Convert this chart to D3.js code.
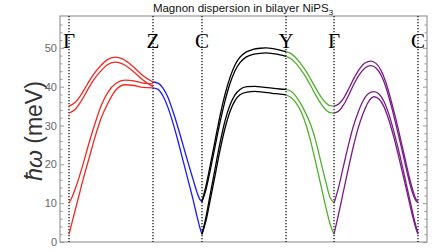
<!DOCTYPE html>
<html>
<head>
<meta charset="utf-8">
<script src="https://cdn.jsdelivr.net/npm/d3@7"></script>
<style>
  body { margin: 0; background: #fff; }
  svg { display: block; }
</style>
</head>
<body>
<div id="chart"></div>
<script>
// Magnon dispersion along the path G-Z-C-Y-G-C
// path coordinate k is in arbitrary distance units along the path

var symK = [0, 84, 133, 217, 265, 349];
var symLabels = ["Γ", "Z", "C", "Y", "Γ", "C"];

var yTicks = [0, 10, 20, 30, 40, 50];

// each segment: list of bands, each band a list of [k, energy (meV)]
var segGammaZ = [
    [[0,35.0],[6,35.9],[12,37.9],[18,40.5],[24,43.0],[31,45.2],[38,46.9],[46,47.6],[54,47.1],[64,45.2],[74,42.8],[84,41.2]],
    [[0,33.2],[6,34.1],[12,36.2],[18,38.9],[24,41.5],[31,43.8],[38,45.6],[46,46.3],[54,45.8],[64,44.0],[74,41.7],[84,40.0]],
    [[0,10],[3,11.5],[8,15],[14,20],[20,25.5],[26,30.5],[32,35],[39,38.6],[47,40.9],[56,41.7],[65,41.5],[74,40.9],[84,40.7]],
    [[0,2],[4,6],[9,11],[14,16],[20,21.5],[26,27],[32,31.8],[39,35.8],[47,39.2],[56,40.5],[65,40.3],[74,39.8],[84,39.7]]
];

var segZC = [
    [[84,41.2],[89,40.9],[94,39.6],[99,37.2],[104,33.6],[109,29.5],[114,25],[119,20.5],[124,16.2],[128,12.8],[131,10.9],[133,10.4]],
    [[84,39.7],[89,39.3],[94,37.6],[99,34.6],[104,30.6],[109,26],[114,21],[119,16],[124,11],[128,6.6],[131,3.6],[133,2]]
];

var segCY = [
    [[133,10.4],[137,14.5],[141,19.5],[146,26],[151,32.5],[156,38],[161,42.4],[166,45.6],[171,47.6],[177,48.9],[184,49.6],[191,49.9],[197,50.0],[204,49.8],[211,49.4],[217,49.0]],
    [[133,10.4],[137,13.5],[141,18.2],[146,24.5],[151,30.8],[156,36.3],[161,40.8],[166,44.1],[171,46.2],[177,47.6],[184,48.3],[191,48.6],[197,48.7],[204,48.5],[211,48.2],[217,47.8]],
    [[133,2],[137,6.5],[141,12],[146,18.8],[151,25.5],[156,31.2],[161,35.3],[166,37.9],[171,39.3],[178,40],[186,40.1],[194,39.9],[203,39.6],[211,39.4],[217,39.3]],
    [[133,2],[137,5.5],[141,10.5],[146,17],[151,23.6],[156,29.3],[161,33.6],[166,36.4],[171,37.9],[178,38.6],[186,38.8],[194,38.6],[203,38.3],[211,38.1],[217,37.9]]
];

var segYGamma = [
    [[217,49.0],[222,48.5],[227,47.4],[232,45.8],[237,44.0],[242,41.8],[247,39.5],[252,37.4],[257,35.8],[261,35.1],[265,35.0]],
    [[217,47.8],[222,47.2],[227,46.0],[232,44.3],[237,42.4],[242,40.1],[247,37.7],[252,35.6],[257,34.0],[261,33.3],[265,33.2]],
    [[217,39.3],[222,38.8],[227,37.5],[232,35.5],[237,33],[242,30],[247,25.8],[252,20.5],[257,15.3],[261,11.5],[265,10.1]],
    [[217,37.9],[222,37.2],[227,35.8],[232,33.6],[237,30.2],[242,25.6],[247,20.2],[252,14.5],[257,8.8],[261,4.7],[265,2]]
];

var segGammaC = [
    [[265,35.0],[270,35.6],[275,37.2],[280,39.6],[285,42.2],[290,44.4],[296,46.1],[302,46.6],[307,46.0],[312,44.2],[317,41.0],[322,36.5],[327,31.5],[332,26.0],[336,21.5],[340,17.0],[344,13.2],[347,11.0],[349,10.4]],
    [[265,33.2],[270,33.8],[275,35.5],[280,38.0],[285,40.7],[290,43.0],[296,44.8],[302,45.4],[307,44.8],[312,43.0],[317,39.8],[322,35.3],[327,30.2],[332,24.8],[336,20.3],[340,15.9],[344,12.3],[347,10.6],[349,10.2]],
    [[265,10],[269,13.5],[274,19],[279,24.5],[284,29.5],[289,33.3],[294,36.3],[299,38.1],[305,38.7],[310,38.1],[315,36.2],[320,32.8],[325,28.3],[330,23.2],[335,17.6],[340,11.8],[344,7.2],[347,4.1],[349,2.3]],
    [[265,2],[269,6.5],[274,12.5],[279,18.5],[284,24.2],[289,29.2],[294,33.0],[299,35.9],[305,37.4],[310,36.8],[315,34.8],[320,31.3],[325,26.8],[330,21.6],[335,16.2],[340,10.6],[344,6.2],[347,3.4],[349,2.0]]
];

var segments = [segGammaZ, segZC, segCY, segYGamma, segGammaC];
var segColors = ["#f02a22", "#1a1aff", "#000000", "#4fb02c", "#7a1c88"];

//////////////////////////////////////////////////////////////////////////////

var width = 448, height = 252;
var plotLeft = 60, plotRight = 427, plotTop = 16, plotBottom = 242;

var xScale = d3.scaleLinear().domain([-9, 358]).range([plotLeft, plotRight]);
var yScale = d3.scaleLinear().domain([0, 58.2]).range([plotBottom, plotTop]);

var svg = d3.select("#chart")
    .append("svg")
    .attr("width", width)
    .attr("height", height);

// title
var title = svg.append("text")
    .attr("x", 243)
    .attr("y", 12)
    .attr("text-anchor", "middle")
    .attr("font-family", "Liberation Sans, Arial, sans-serif")
    .attr("font-size", 11.5)
    .attr("fill", "#111")
    .text("Magnon dispersion in bilayer NiPS");
title.append("tspan")
    .attr("font-size", 8)
    .attr("dy", 3)
    .text("3");

// y axis label
var ylab = svg.append("text")
    .attr("transform", "translate(42,131) rotate(-90)")
    .attr("text-anchor", "middle")
    .attr("font-family", "Liberation Sans, Arial, sans-serif")
    .attr("font-size", 23)
    .attr("fill", "#333");
ylab.append("tspan").attr("font-style", "italic").text("ħω");
ylab.append("tspan").text(" (meV)");

// frame
svg.append("rect")
    .attr("x", plotLeft)
    .attr("y", plotTop)
    .attr("width", plotRight - plotLeft)
    .attr("height", plotBottom - plotTop)
    .attr("fill", "none")
    .attr("stroke", "#999")
    .attr("stroke-width", 1.2);

var minorTicks = d3.range(0, 58, 2).filter(function(v) { return v % 10 !== 0; });

function greyTicks(g) {
    g.select(".domain").remove();
    g.selectAll("line").attr("stroke", "#999");
}

// left axis, ticks inside the frame
var leftAxis = svg.append("g")
    .attr("transform", "translate(" + plotLeft + ",0)")
    .call(d3.axisLeft(yScale).tickValues(yTicks).tickSizeInner(-4).tickSizeOuter(0).tickPadding(3))
    .call(greyTicks);
leftAxis.selectAll("text")
    .attr("font-family", "Liberation Sans, Arial, sans-serif")
    .attr("font-size", 11)
    .attr("fill", "#666");

svg.append("g")
    .attr("transform", "translate(" + plotLeft + ",0)")
    .call(d3.axisLeft(yScale).tickValues(minorTicks).tickSizeInner(-2.5).tickSizeOuter(0).tickFormat(""))
    .call(greyTicks);

// right axis, no labels
svg.append("g")
    .attr("transform", "translate(" + plotRight + ",0)")
    .call(d3.axisRight(yScale).tickValues(yTicks).tickSizeInner(-4).tickSizeOuter(0).tickFormat(""))
    .call(greyTicks);

svg.append("g")
    .attr("transform", "translate(" + plotRight + ",0)")
    .call(d3.axisRight(yScale).tickValues(minorTicks).tickSizeInner(-2.5).tickSizeOuter(0).tickFormat(""))
    .call(greyTicks);

// dotted lines at high symmetry points
svg.append("g")
    .selectAll("line")
    .data(symK)
    .enter()
    .append("line")
    .attr("x1", function(d) { return xScale(d); })
    .attr("x2", function(d) { return xScale(d); })
    .attr("y1", plotTop)
    .attr("y2", plotBottom)
    .attr("stroke", "#000")
    .attr("stroke-width", 1.2)
    .attr("stroke-dasharray", "1.3,1.7");

// bands
var line = d3.line()
    .x(function(d) { return xScale(d[0]); })
    .y(function(d) { return yScale(d[1]); })
    .curve(d3.curveMonotoneX);

segments.forEach(function(seg, i) {
    svg.append("g")
        .selectAll("path")
        .data(seg)
        .enter()
        .append("path")
        .attr("d", line)
        .attr("fill", "none")
        .attr("stroke", segColors[i])
        .attr("stroke-width", 1.3);
});

// high symmetry labels
svg.append("g")
    .selectAll("text")
    .data(symK)
    .enter()
    .append("text")
    .attr("x", function(d) { return xScale(d); })
    .attr("y", 48)
    .attr("text-anchor", "middle")
    .attr("font-family", "Liberation Serif, Times New Roman, serif")
    .attr("font-size", 21)
    .attr("fill", "#000")
    .text(function(d, i) { return symLabels[i]; });
</script>
</body>
</html>
